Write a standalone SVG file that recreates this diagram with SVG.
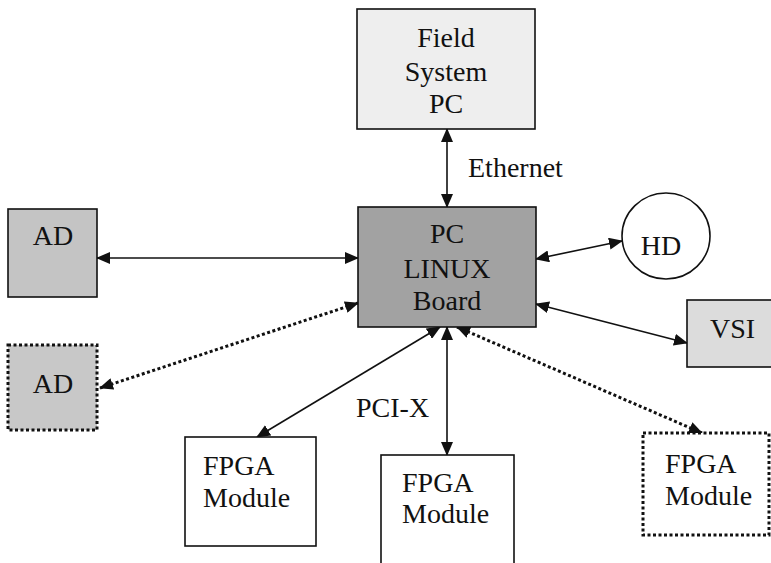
<svg xmlns="http://www.w3.org/2000/svg" width="771" height="563" viewBox="0 0 771 563">
<style>
text{font-family:"Liberation Serif","Times New Roman",serif;font-size:28px;fill:#111}
.c{text-anchor:middle}
.box{stroke:#111;stroke-width:1.6}
.dbox{stroke:#111;stroke-width:3;stroke-dasharray:3 2.5}
.ln{stroke:#111;stroke-width:1.6;fill:none}
.dl{stroke:#111;stroke-width:3;stroke-dasharray:3 2.5;fill:none}
</style>
<defs>
<marker id="ah" markerUnits="userSpaceOnUse" markerWidth="14" markerHeight="12" refX="13" refY="6" orient="auto-start-reverse">
<path d="M0,0 L14,6 L0,12 z" fill="#111"/>
</marker>
</defs>
<rect width="771" height="563" fill="#fff"/>
<g id="connectors">
<line class="ln" x1="447" y1="129" x2="447" y2="207" marker-start="url(#ah)" marker-end="url(#ah)"/>
<line class="ln" x1="97" y1="258" x2="358" y2="258" marker-start="url(#ah)" marker-end="url(#ah)"/>
<line class="dl" x1="100" y1="388" x2="358" y2="303" marker-start="url(#ah)" marker-end="url(#ah)"/>
<line class="ln" x1="536" y1="259" x2="622" y2="241" marker-start="url(#ah)" marker-end="url(#ah)"/>
<line class="ln" x1="536" y1="304" x2="687" y2="343" marker-start="url(#ah)" marker-end="url(#ah)"/>
<line class="ln" x1="440" y1="327" x2="257" y2="437" marker-start="url(#ah)" marker-end="url(#ah)"/>
<line class="ln" x1="447" y1="327" x2="447" y2="455" marker-start="url(#ah)" marker-end="url(#ah)"/>
<line class="dl" x1="457" y1="327" x2="702" y2="433" marker-start="url(#ah)" marker-end="url(#ah)"/>
<text x="468" y="177">Ethernet</text>
<text x="356" y="417">PCI-X</text>
</g>
<g id="field-pc">
<rect class="box" x="357" y="9" width="178" height="120" fill="#eeeeee"/>
<text class="c" x="446" y="47">Field</text>
<text class="c" x="446" y="81">System</text>
<text class="c" x="446" y="113">PC</text>
</g>
<g id="pc-linux">
<rect class="box" x="358" y="207" width="178" height="120" fill="#a2a2a2"/>
<text class="c" x="447" y="243">PC</text>
<text class="c" x="447" y="278">LINUX</text>
<text class="c" x="447" y="310">Board</text>
</g>
<g id="ad1">
<rect class="box" x="8" y="209" width="89" height="88" fill="#c4c4c4"/>
<text class="c" x="53" y="245">AD</text>
</g>
<g id="ad2">
<rect class="dbox" x="8" y="345" width="89" height="85" fill="#c8c8c8"/>
<text class="c" x="53" y="393">AD</text>
</g>
<g id="hd">
<ellipse class="box" cx="666" cy="236" rx="44" ry="43" fill="#fff"/>
<text class="c" x="661" y="255">HD</text>
</g>
<g id="vsi">
<rect class="box" x="687" y="300" width="90" height="67" fill="#dcdcdc"/>
<text x="710" y="338">VSI</text>
</g>
<g id="fpga1">
<rect class="box" x="185" y="437" width="131" height="109" fill="#fff"/>
<text x="203" y="475">FPGA</text>
<text x="203" y="507">Module</text>
</g>
<g id="fpga2">
<rect class="box" x="381" y="455" width="133" height="120" fill="#fff"/>
<text x="402" y="492">FPGA</text>
<text x="402" y="523">Module</text>
</g>
<g id="fpga3">
<rect class="dbox" x="643" y="433" width="126" height="102" fill="#fff"/>
<text x="665" y="473">FPGA</text>
<text x="665" y="505">Module</text>
</g>
</svg>
